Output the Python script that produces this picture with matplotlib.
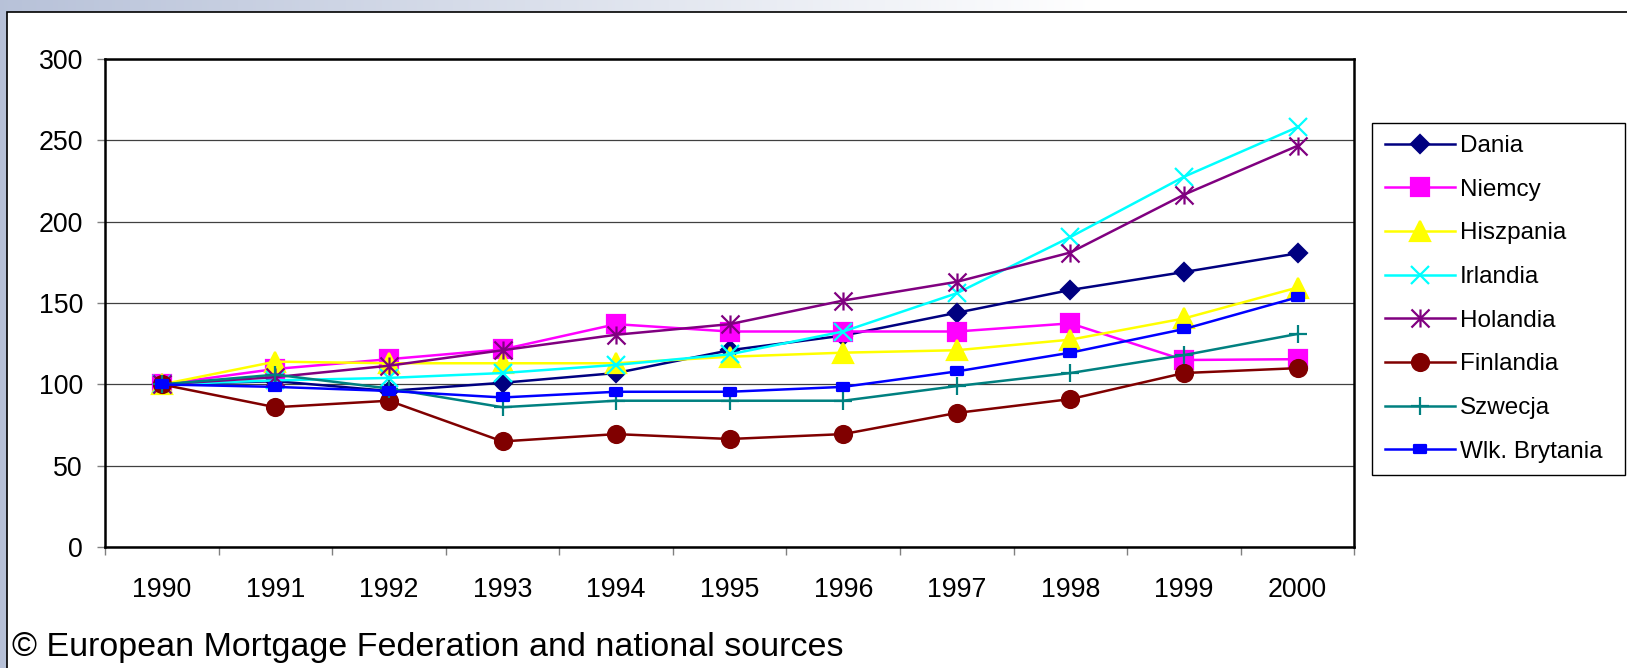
import numpy as np
import matplotlib
matplotlib.use('Agg')
import matplotlib.pyplot as plt
from matplotlib.path import Path
from matplotlib.patches import Rectangle

plt.rcParams['font.family'] = ['Liberation Sans', 'DejaVu Sans']

# Dane (indeks, 1990 = 100)
lata = ['1990', '1991', '1992', '1993', '1994', '1995', '1996', '1997', '1998', '1999', '2000']
dania = [100, 102, 96, 101, 107, 121, 130, 144, 158, 169, 180.5]
niemcy = [100, 109.5, 115.5, 121.5, 137, 132.5, 132.5, 132.5, 137.5, 115, 115.5]
hiszpania = [100, 114, 113, 113, 113, 117, 119.5, 121, 127.5, 140.5, 159.5]
irlandia = [100, 102.5, 104, 107, 112, 118.5, 132.5, 156, 190.5, 227.5, 258]
holandia = [100, 104.5, 111.5, 121, 130.5, 137, 151.5, 163, 181, 216.5, 246.5]
finlandia = [100, 86, 90, 65, 69.5, 66.5, 69.5, 82.5, 91, 107, 110]
szwecja = [100, 106, 97.5, 86, 90, 90, 90, 99, 107, 118, 131]
wlk_brytania = [100, 98.5, 96, 92, 95.5, 95.5, 98.5, 108, 119.5, 134, 153.5]

kraje = ['Dania', 'Niemcy', 'Hiszpania', 'Irlandia', 'Holandia', 'Finlandia', 'Szwecja', 'Wlk. Brytania']
serie = [dania, niemcy, hiszpania, irlandia, holandia, finlandia, szwecja, wlk_brytania]

# markery jak w Excelu
gwiazdka = Path([(-1, -1), (1, 1), (-1, 1), (1, -1), (0, -1), (0, 1)],
                [Path.MOVETO, Path.LINETO, Path.MOVETO, Path.LINETO, Path.MOVETO, Path.LINETO])
prostokat = Path([(-1, -0.65), (1, -0.65), (1, 0.65), (-1, 0.65), (-1, -0.65)],
                 [Path.MOVETO, Path.LINETO, Path.LINETO, Path.LINETO, Path.CLOSEPOLY])

style = [
    ('#000080', 'D', 9.2),
    ('#FF00FF', 's', 12.5),
    ('#FFFF00', '^', 14),
    ('#00FFFF', 'x', 13),
    ('#800080', gwiazdka, 13),
    ('#800000', 'o', 12.2),
    ('#008080', '+', 12.5),
    ('#0000FF', prostokat, 8.6),
]

W, H = 1627, 668
fig = plt.figure(figsize=(W / 100, H / 100), dpi=100)

# tlo slajdu: gradient + bialy panel z ramka
bg = fig.add_axes([0, 0, 1, 1], zorder=-10)
bg.set_xlim(0, W)
bg.set_ylim(H, 0)
bg.axis('off')
start = np.array([0.72, 0.76, 0.85])
t = np.clip(np.arange(W) / 1100.0, 0, 1)[:, None]
pasek = start + (1 - start) * t
bg.imshow(pasek[None, :, :], extent=[0, W, H, 0], aspect='auto')
bg.add_patch(Rectangle((7, 11.7), W, H, facecolor='white', edgecolor='black', lw=1.2))

# wykres
ax = fig.add_axes([105 / W, (H - 547.3) / H, (1354.3 - 105) / W, (547.3 - 58.7) / H])
x = np.arange(len(lata))
for nazwa, y, (kolor, m, ms) in zip(kraje, serie, style):
    ax.plot(x, y, color=kolor, lw=1.8, marker=m, markersize=ms,
            markerfacecolor=kolor, markeredgecolor=kolor, markeredgewidth=1.6,
            label=nazwa, clip_on=False)

ax.set_xlim(-0.5, len(lata) - 0.5)
ax.set_ylim(0, 300)
ax.set_yticks(range(0, 301, 50))
ax.set_xticks(x)
ax.set_xticklabels(lata)
ax.set_xticks(np.arange(-0.5, len(lata), 1), minor=True)
ax.tick_params(axis='y', length=5.8, width=1, color='#808080', pad=10, labelsize=19.3)
ax.tick_params(axis='x', which='major', length=0, pad=21.5, labelsize=19.3)
ax.tick_params(axis='x', which='minor', length=5.8, width=1, color='#808080')
ax.yaxis.grid(True, color='#404040', lw=0.9)
ax.set_axisbelow(True)
for s in ax.spines.values():
    s.set_linewidth(1.8)
    s.set_color('black')

# legenda
leg = fig.legend(loc='upper left', bbox_to_anchor=(1372 / W, 1 - 122.5 / H - 0.01, (1625 - 1372) / W, 0.01),
                 mode='expand', fontsize=17.5, labelspacing=0.89, borderpad=0.52,
                 handlelength=2.9, handletextpad=0.2, borderaxespad=0, numpoints=1,
                 fancybox=False, framealpha=1, edgecolor='black')
leg.get_frame().set_linewidth(1.0)

fig.text(12 / W, 1 - 656 / H, '© European Mortgage Federation and national sources',
         fontsize=24.5, ha='left', va='baseline')

fig.savefig('out.png', dpi=100)
